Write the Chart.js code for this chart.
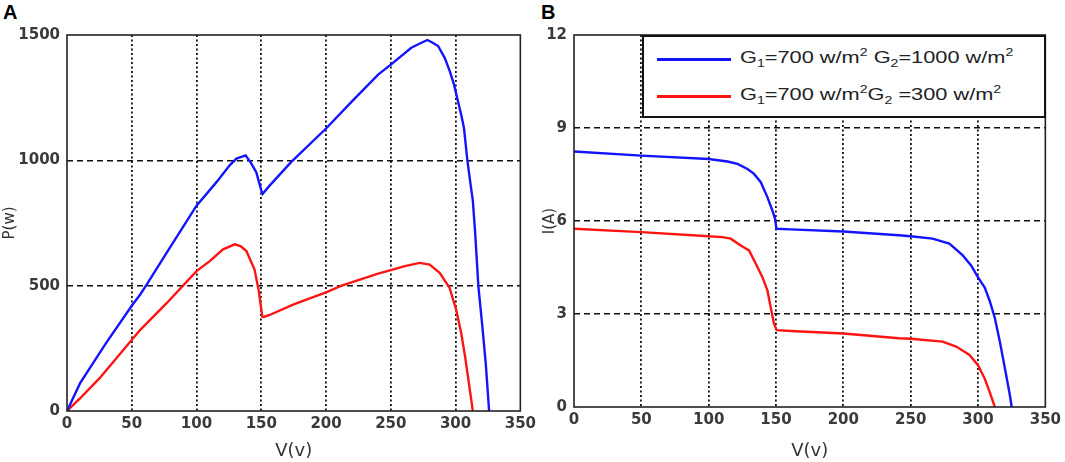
<!DOCTYPE html>
<html>
<head>
<meta charset="utf-8">
<script src="https://cdn.jsdelivr.net/npm/chart.js@4"></script>
<style>
  body { margin: 0; background: #fff; width: 1065px; height: 462px; position: relative; overflow: hidden; font-family: Arial, "Liberation Sans", sans-serif; }
  .panel { position: absolute; top: 0; height: 462px; }
  .tag { position: absolute; top: 1px; font: bold 20px Arial, "Liberation Sans", sans-serif; color: #000; }
  #legend { position: absolute; left: 642px; top: 35px; width: 404px; height: 83px; box-sizing: border-box; background: #fff; border: 2px solid #111; }
  .swatch { position: absolute; left: 13px; width: 74px; height: 3px; }
  .txt { position: absolute; left: 96px; font-size: 17px; line-height: 20px; color: #222; white-space: nowrap; transform: scaleX(1.28); transform-origin: left center; }
  sub, sup { font-size: 11px; line-height: 0; }
</style>
</head>
<body>
<div class="tag" style="left:3px">A</div>
<div class="tag" style="left:541px">B</div>
<div class="panel" style="left:0;width:540px"><canvas id="pv" width="540" height="462"></canvas></div>
<div class="panel" style="left:540px;width:525px"><canvas id="iv" width="525" height="462"></canvas></div>
<div id="legend">
  <div class="swatch" style="top:21px;background:#1414ff"></div>
  <div class="txt" style="top:11px">G<sub>1</sub>=700 w/m<sup>2</sup> G<sub>2</sub>=1000 w/m<sup>2</sup></div>
  <div class="swatch" style="top:58px;background:#ff1414"></div>
  <div class="txt" style="top:48px">G<sub>1</sub>=700 w/m<sup>2</sup>G<sub>2</sub> =300 w/m<sup>2</sup></div>
</div>
<script>
// panel A: power vs voltage
const vBlueP = [0, 10, 30, 50, 56.4, 61.5, 77, 100, 115.4, 125.6, 130.8, 137.9, 142, 146.1, 150, 151, 156.4, 173, 200, 220, 240.2, 250, 265.8, 272, 278.2, 282, 286.5, 291.6, 295.5, 298.8, 301.9, 304.4, 306.5, 309.1, 311.7, 313.3, 315.1, 317.6, 320.7, 323.3, 325.9];
const pBlue  = [0, 110, 270, 420, 464, 504, 632, 819, 913, 980, 1007, 1020, 990, 953, 880, 866, 899, 993, 1127, 1235, 1342, 1382, 1449, 1465, 1480, 1470, 1456, 1409, 1356, 1302, 1235, 1181, 1128, 1000, 899, 840, 712, 497, 336, 189, 0];
const vRedP = [0, 10, 25, 56.4, 76.9, 100, 110.2, 120.5, 129.5, 134, 138.5, 144.8, 147.9, 150.8, 152, 156.4, 175, 200, 212, 240.2, 250, 260.8, 272.3, 280, 287.7, 295.4, 300.5, 304.4, 307.4, 310, 313.3];
const pRed  = [0, 50, 130, 323, 430, 558, 598, 645, 665, 658, 638, 564, 484, 376, 375, 383, 425, 473, 500, 548, 562, 578, 591, 584, 551, 491, 403, 309, 215, 121, 0];

// panel B: current vs voltage
const vBlueI = [0, 50, 100, 114, 121.4, 128.8, 133.7, 138.7, 143.6, 147.3, 149.3, 150.3, 160.9, 200, 241.2, 250, 266.2, 278.7, 288.7, 295, 300, 305, 308.7, 312.5, 316.2, 320, 323.7, 325];
const iBlue  = [8.24, 8.11, 8.0, 7.92, 7.84, 7.68, 7.52, 7.25, 6.77, 6.34, 6.07, 5.75, 5.73, 5.66, 5.54, 5.51, 5.43, 5.27, 4.89, 4.56, 4.18, 3.85, 3.42, 2.87, 2.11, 1.24, 0.37, 0];
const vRedI = [0, 50, 100, 110.2, 116.4, 123.8, 130, 135, 139.9, 143.6, 146, 148.5, 150.5, 160.9, 200, 241.2, 250, 273.7, 283.8, 293.7, 300, 305, 308.7, 312.5];
const iRed  = [5.75, 5.64, 5.51, 5.48, 5.43, 5.21, 5.05, 4.62, 4.19, 3.76, 3.23, 2.69, 2.48, 2.45, 2.37, 2.22, 2.2, 2.11, 1.95, 1.68, 1.35, 0.91, 0.48, 0];

const xTicks = [0, 50, 100, 150, 200, 250, 300, 350];
const pTicks = [0, 500, 1000, 1500];
const iTicks = [0, 3, 6, 9, 12];

const pts = (xs, ys) => xs.map((x, i) => ({ x: x, y: ys[i] }));

const frame = {
  id: 'frame',
  afterDatasetsDraw(chart) {
    const a = chart.chartArea, c = chart.ctx;
    c.save();
    c.strokeStyle = '#222';
    c.lineWidth = 1.6;
    c.strokeRect(a.left, a.top, a.right - a.left, a.bottom - a.top);
    c.restore();
  }
};

const tickFont = { family: 'DejaVu Sans', size: 15, weight: 'bold' };

function makeChart(id, sets, yMax, yTicks, yTitle, pad, yWidth, xHeight, xTitlePad) {
  const gridColor = (lo, hi) => ctx => (ctx.tick && (ctx.tick.value === lo || ctx.tick.value === hi)) ? 'rgba(0,0,0,0)' : '#111';
  return new Chart(document.getElementById(id), {
    type: 'line',
    data: {
      datasets: sets.map(s => ({
        data: s.data, borderColor: s.color, borderWidth: 2.4,
        pointRadius: 0, tension: 0, fill: false
      }))
    },
    options: {
      responsive: false,
      animation: false,
      layout: { padding: pad },
      plugins: { legend: { display: false }, tooltip: { enabled: false } },
      scales: {
        x: {
          type: 'linear', min: 0, max: 350,
          afterBuildTicks: s => { s.ticks = xTicks.map(v => ({ value: v })); },
          afterFit: s => { s.height = xHeight; },
          grid: { color: gridColor(0, 350), lineWidth: 1.8, drawTicks: false },
          border: { display: false, dash: [2, 2.5] },
          ticks: { color: '#3a3a3a', padding: 4, font: tickFont, callback: v => String(v) },
          title: { display: true, text: 'V(v)', color: '#333', padding: { top: xTitlePad, bottom: 0 }, font: { family: 'DejaVu Sans', size: 18 } }
        },
        y: {
          type: 'linear', min: 0, max: yMax,
          afterBuildTicks: s => { s.ticks = yTicks.map(v => ({ value: v })); },
          afterFit: s => { s.width = yWidth; },
          grid: { color: gridColor(0, yMax), lineWidth: 1.6, drawTicks: false },
          border: { display: false, dash: [6, 4] },
          ticks: { color: '#3a3a3a', padding: 7, font: tickFont, callback: v => String(v) },
          title: { display: true, text: yTitle, color: '#333', padding: { top: 1, bottom: 0 }, font: { family: 'DejaVu Sans', size: 15 } }
        }
      }
    },
    plugins: [frame]
  });
}

makeChart('pv', [
  { data: pts(vBlueP, pBlue), color: '#1414ff' },
  { data: pts(vRedP, pRed), color: '#ff1414' }
], 1500, pTicks, 'P(w)', { top: 35, right: 17, left: 0, bottom: 0 }, 67, 51, 4);

makeChart('iv', [
  { data: pts(vBlueI, iBlue), color: '#1414ff' },
  { data: pts(vRedI, iRed), color: '#ff1414' }
], 12, iTicks, 'I(A)', { top: 35, right: 19, left: 0, bottom: 0 }, 34, 55, 2);
</script>
</body>
</html>
